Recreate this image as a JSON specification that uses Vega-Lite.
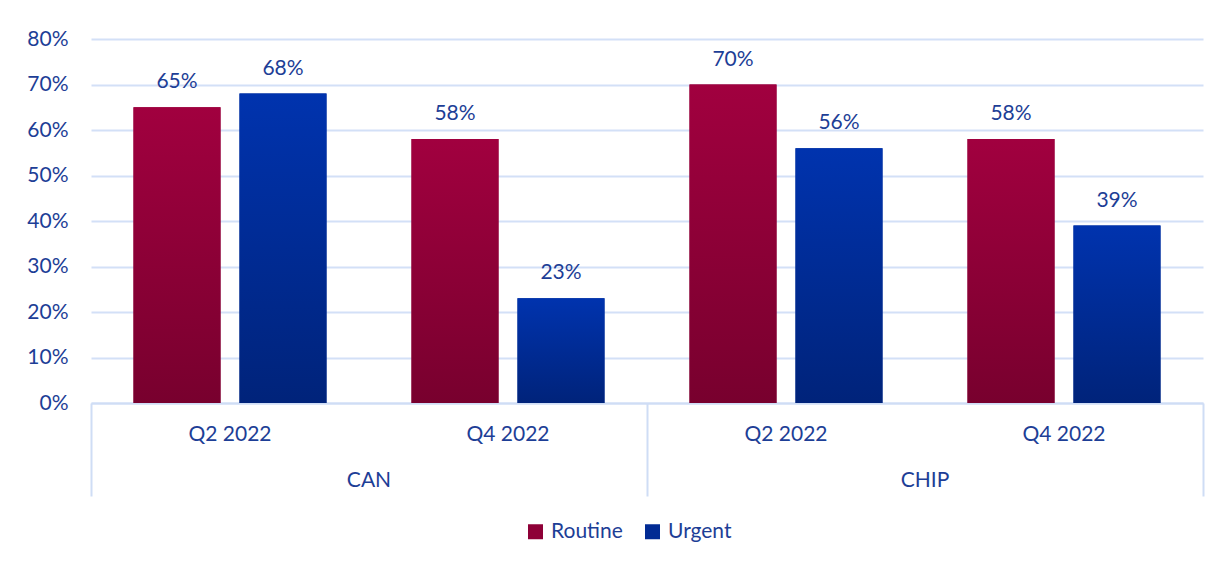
{
  "$schema": "https://vega.github.io/schema/vega-lite/v6.json",
  "width": 1112,
  "height": 364,
  "autosize": {"type": "none"},
  "padding": {"left": 91, "top": 39, "right": 16, "bottom": 161},
  "background": "white",
  "config": {
    "view": {"stroke": null},
    "font": "Lato",
    "axis": {"labelFont": "Lato", "labelFontSize": 21, "labelColor": "#1D3E96", "titleFont": "Lato"},
    "legend": {"labelFont": "Lato", "labelFontSize": 21, "labelColor": "#1D3E96"}
  },
  "data": {
    "values": [
      {"key": "CAN|Q2 2022", "program": "CAN", "quarter": "Q2 2022", "series": "Routine", "value": 0.65},
      {"key": "CAN|Q2 2022", "program": "CAN", "quarter": "Q2 2022", "series": "Urgent", "value": 0.68},
      {"key": "CAN|Q4 2022", "program": "CAN", "quarter": "Q4 2022", "series": "Routine", "value": 0.58},
      {"key": "CAN|Q4 2022", "program": "CAN", "quarter": "Q4 2022", "series": "Urgent", "value": 0.23},
      {"key": "CHIP|Q2 2022", "program": "CHIP", "quarter": "Q2 2022", "series": "Routine", "value": 0.70},
      {"key": "CHIP|Q2 2022", "program": "CHIP", "quarter": "Q2 2022", "series": "Urgent", "value": 0.56},
      {"key": "CHIP|Q4 2022", "program": "CHIP", "quarter": "Q4 2022", "series": "Routine", "value": 0.58},
      {"key": "CHIP|Q4 2022", "program": "CHIP", "quarter": "Q4 2022", "series": "Urgent", "value": 0.39}
    ]
  },
  "layer": [
    {
      "encoding": {
        "x": {
          "field": "key", "type": "nominal",
          "scale": {"paddingInner": 0, "paddingOuter": 0},
          "axis": {
            "orient": "bottom", "title": null, "labelAngle": 0,
            "labelExpr": "split(datum.label, '|')[1]",
            "ticks": false, "tickSize": 0,
            "labelPadding": 31, "labelBaseline": "middle",
            "domain": true, "domainColor": "#CFDDF5", "domainWidth": 2
          }
        },
        "xOffset": {
          "field": "series", "type": "nominal",
          "scale": {"paddingInner": 0.179, "paddingOuter": 0.401}
        },
        "y": {
          "field": "value", "type": "quantitative",
          "scale": {"domain": [0, 0.8], "nice": false},
          "axis": {
            "title": null, "format": ".0%",
            "values": [0, 0.1, 0.2, 0.3, 0.4, 0.5, 0.6, 0.7, 0.8],
            "ticks": false, "tickSize": 0, "domain": false,
            "labelPadding": 23,
            "grid": true, "gridColor": "#D3E0F7", "gridWidth": 2
          }
        }
      },
      "layer": [
        {
          "mark": {"type": "bar"},
          "encoding": {
            "color": {
              "field": "series", "type": "nominal",
              "scale": {"domain": ["Routine", "Urgent"], "range": ["#8E0037", "#012B94"]},
              "legend": {
                "orient": "none", "legendX": 434, "legendY": 482,
                "direction": "horizontal", "title": null,
                "symbolType": "square", "symbolSize": 225,
                "symbolStrokeWidth": 0, "labelOffset": 5, "columnPadding": 19
              }
            }
          }
        },
        {
          "mark": {"type": "bar"},
          "encoding": {
            "fill": {
              "condition": {
                "test": "datum.series === 'Routine'",
                "value": {
                  "gradient": "linear", "x1": 0, "y1": 0, "x2": 0, "y2": 1,
                  "stops": [{"offset": 0, "color": "#A1003F"}, {"offset": 1, "color": "#78002E"}]
                }
              },
              "value": {
                "gradient": "linear", "x1": 0, "y1": 0, "x2": 0, "y2": 1,
                "stops": [{"offset": 0, "color": "#0033AE"}, {"offset": 1, "color": "#00237A"}]
              }
            }
          }
        },
        {
          "mark": {"type": "text", "baseline": "alphabetic", "dy": -19, "fontSize": 21, "color": "#1D3E96", "font": "Lato"},
          "encoding": {
            "text": {"field": "value", "type": "quantitative", "format": ".0%"}
          }
        }
      ]
    },
    {
      "mark": {"type": "rule", "strokeOpacity": 0},
      "encoding": {
        "x": {
          "field": "program", "type": "nominal",
          "scale": {"paddingInner": 0, "paddingOuter": 0},
          "axis": {
            "orient": "bottom", "title": null, "labelAngle": 0,
            "ticks": false, "tickSize": 0, "domain": false, "grid": false,
            "labelPadding": 77, "labelBaseline": "middle"
          }
        }
      }
    },
    {
      "mark": {"type": "rule", "strokeOpacity": 0},
      "encoding": {
        "x": {
          "datum": 0, "type": "quantitative",
          "scale": {"domain": [0, 2], "nice": false, "zero": false},
          "axis": {
            "orient": "bottom", "title": null, "values": [0, 1, 2],
            "labels": false, "domain": false, "grid": false,
            "ticks": true, "tickSize": 93, "tickColor": "#CFDDF5", "tickWidth": 2
          }
        }
      }
    }
  ],
  "resolve": {"scale": {"x": "independent"}, "axis": {"x": "independent"}}
}
